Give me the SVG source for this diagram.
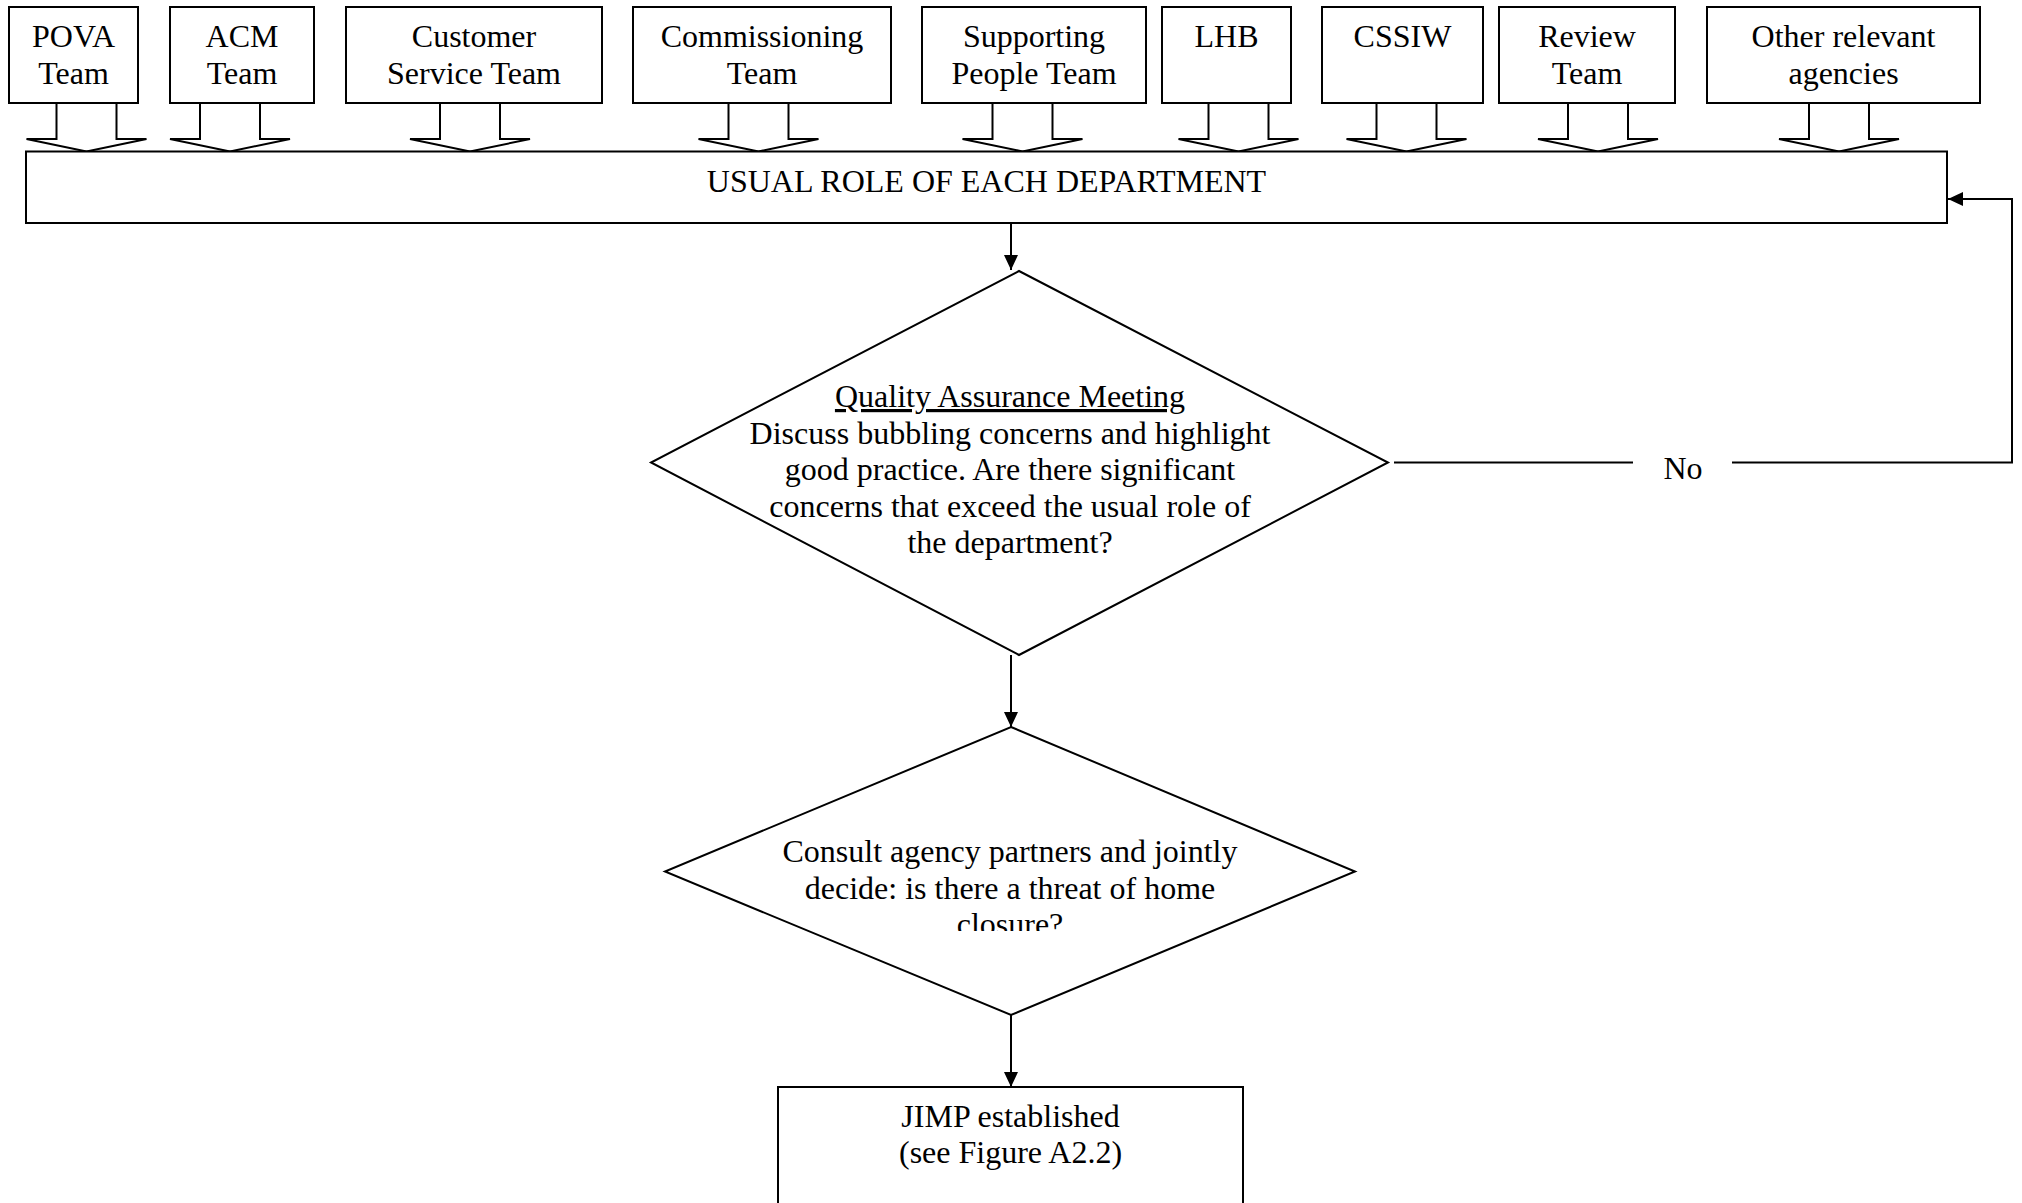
<svg xmlns="http://www.w3.org/2000/svg" width="2022" height="1203" viewBox="0 0 2022 1203">
<style>
.box{fill:#fff;stroke:#000;stroke-width:2}
.blk{fill:#fff;stroke:#000;stroke-width:2;stroke-linejoin:miter}
.ln{fill:none;stroke:#000;stroke-width:2}
text{font-family:"Liberation Serif","Times New Roman",serif;font-size:32px;fill:#000;text-anchor:middle}
</style>
<defs>
<marker id="ah" markerUnits="userSpaceOnUse" markerWidth="15" markerHeight="14" refX="15" refY="7" orient="auto">
<path d="M0,0 L15,7 L0,14 z" fill="#000"/>
</marker>
<clipPath id="clipD2"><rect x="600" y="700" width="800" height="231"/></clipPath>
</defs>
<rect x="0" y="0" width="2022" height="1203" fill="#fff"/>

<g id="pova"><rect class="box" x="9" y="7" width="129" height="96"/><text x="73.5" y="47">POVA</text><text x="73.5" y="84">Team</text></g>
<g id="acm"><rect class="box" x="170" y="7" width="144" height="96"/><text x="242" y="47">ACM</text><text x="242" y="84">Team</text></g>
<g id="customer"><rect class="box" x="346" y="7" width="256" height="96"/><text x="474" y="47">Customer</text><text x="474" y="84">Service Team</text></g>
<g id="commissioning"><rect class="box" x="633" y="7" width="258" height="96"/><text x="762" y="47">Commissioning</text><text x="762" y="84">Team</text></g>
<g id="supporting"><rect class="box" x="922" y="7" width="224" height="96"/><text x="1034" y="47">Supporting</text><text x="1034" y="84">People Team</text></g>
<g id="lhb"><rect class="box" x="1162" y="7" width="129" height="96"/><text x="1226.5" y="47">LHB</text></g>
<g id="cssiw"><rect class="box" x="1322" y="7" width="161" height="96"/><text x="1402.5" y="47">CSSIW</text></g>
<g id="review"><rect class="box" x="1499" y="7" width="176" height="96"/><text x="1587" y="47">Review</text><text x="1587" y="84">Team</text></g>
<g id="other"><rect class="box" x="1707" y="7" width="273" height="96"/><text x="1843.5" y="47">Other relevant</text><text x="1843.5" y="84">agencies</text></g>

<g id="block-arrows">
<polygon class="blk" points="56.5,103 56.5,139 26.5,139 86.5,151.5 146.5,139 116.5,139 116.5,103"/>
<polygon class="blk" points="200,103 200,139 170,139 230,151.5 290,139 260,139 260,103"/>
<polygon class="blk" points="440,103 440,139 410,139 470,151.5 530,139 500,139 500,103"/>
<polygon class="blk" points="728.5,103 728.5,139 698.5,139 758.5,151.5 818.5,139 788.5,139 788.5,103"/>
<polygon class="blk" points="992.5,103 992.5,139 962.5,139 1022.5,151.5 1082.5,139 1052.5,139 1052.5,103"/>
<polygon class="blk" points="1208.5,103 1208.5,139 1178.5,139 1238.5,151.5 1298.5,139 1268.5,139 1268.5,103"/>
<polygon class="blk" points="1376.5,103 1376.5,139 1346.5,139 1406.5,151.5 1466.5,139 1436.5,139 1436.5,103"/>
<polygon class="blk" points="1568,103 1568,139 1538,139 1598,151.5 1658,139 1628,139 1628,103"/>
<polygon class="blk" points="1809,103 1809,139 1779,139 1839,151.5 1899,139 1869,139 1869,103"/>
</g>

<g id="usual-role"><rect class="box" x="26" y="151.5" width="1921" height="71.5"/><text x="986.5" y="192">USUAL ROLE OF EACH DEPARTMENT</text></g>

<g id="qa-meeting">
<polygon class="box" points="1019,271 1388,462.5 1019,655 651,462.5"/>
<text x="1010" y="407" text-decoration="underline">Quality Assurance Meeting</text>
<text x="1010" y="443.5">Discuss bubbling concerns and highlight</text>
<text x="1010" y="480">good practice. Are there significant</text>
<text x="1010" y="516.5">concerns that exceed the usual role of</text>
<text x="1010" y="553">the department?</text>
</g>

<g id="consult">
<polygon class="box" points="1011,727 1355,871.5 1011,1015 665,871.5"/>
<g clip-path="url(#clipD2)">
<text x="1010" y="862">Consult agency partners and jointly</text>
<text x="1010" y="898.5">decide: is there a threat of home</text>
<text x="1010" y="935">closure?</text>
</g>
</g>

<g id="jimp"><rect class="box" x="778" y="1087" width="465" height="140"/><text x="1010.5" y="1127">JIMP established</text><text x="1010.5" y="1163">(see Figure A2.2)</text></g>

<g id="connectors">
<line class="ln" x1="1011" y1="223" x2="1011" y2="270" marker-end="url(#ah)"/>
<line class="ln" x1="1011" y1="655" x2="1011" y2="727" marker-end="url(#ah)"/>
<line class="ln" x1="1011" y1="1015" x2="1011" y2="1087" marker-end="url(#ah)"/>
<line class="ln" x1="1394" y1="462.5" x2="1633" y2="462.5"/>
<polyline class="ln" points="1732,462.5 2012,462.5 2012,199 1948,199" marker-end="url(#ah)"/>
<text x="1683" y="479">No</text>
</g>
</svg>
